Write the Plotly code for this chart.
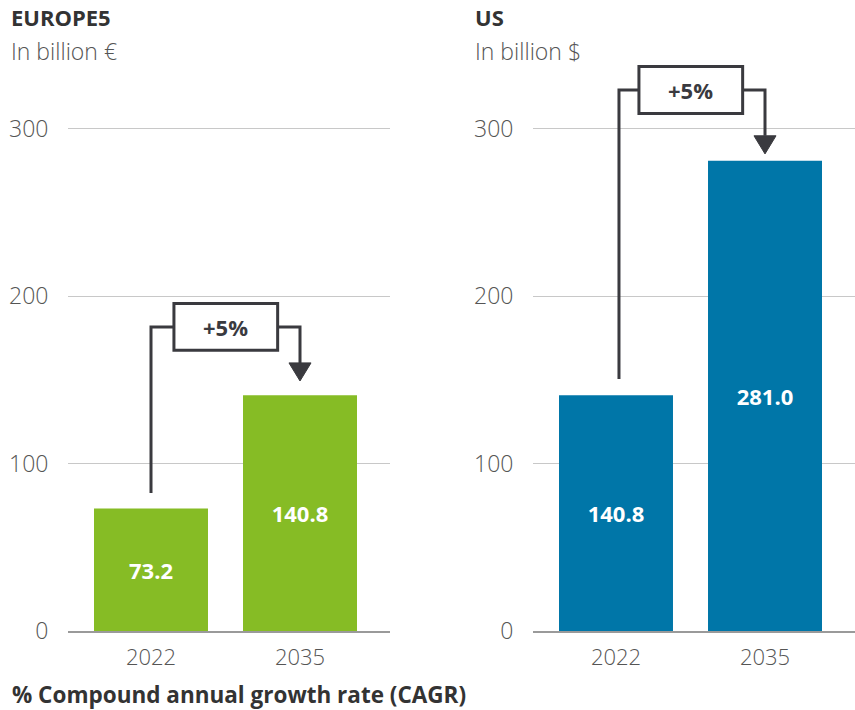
import plotly.graph_objects as go

# ---- data ----
years = ["2022", "2035"]
europe_values = [73.2, 140.8]
us_values = [140.8, 281.0]
europe_cagr = "+5%"
us_cagr = "+5%"
y_ticks = [0, 100, 200, 300]
panel_titles = ["EUROPE5", "US"]
panel_units = ["In billion €", "In billion $"]
footnote = "% Compound annual growth rate (CAGR)"

GREEN = "#86BC25"
BLUE = "#0076A8"
DARK = "#3a3a3f"
GRAY_TXT = "#555555"
FONT = "Open Sans"

W, H = 855, 710
M_T, M_B = 62, 79
plot_h = H - M_T - M_B

xpos = list(range(len(years)))

fig = go.Figure()

def add_bars(values, color, xa, ya):
    fig.add_trace(go.Bar(
        x=xpos, y=values, width=0.765, marker=dict(color=color, line=dict(width=0)),
        text=[f"{v:.1f}" for v in values], textposition="inside",
        insidetextanchor="middle", textangle=0,
        textfont=dict(family=FONT, size=22, color="white", weight="bold"),
        xaxis=xa, yaxis=ya, showlegend=False, hoverinfo="skip",
    ))

add_bars(europe_values, GREEN, "x", "y")
add_bars(us_values, BLUE, "x2", "y2")

shapes = []
annotations = []

def add_cagr(values, label, xr, yr, start_gap, tip_gap, box_gap, left_x):
    box_y = values[-1] + box_gap
    half_h = 14.0
    bx0, bx1 = 0.154, 0.85
    line = dict(color=DARK, width=3)
    shapes.append(dict(type="path", xref=xr, yref=yr,
                       path=f"M {left_x} {values[0] + start_gap} L {left_x} {box_y} L {bx0} {box_y}",
                       line=line))
    base = values[-1] + tip_gap + 10.8
    shapes.append(dict(type="path", xref=xr, yref=yr,
                       path=f"M {bx1} {box_y} L 1 {box_y} L 1 {base}",
                       line=line))
    shapes.append(dict(type="path", xref=xr, yref=yr,
                       path=f"M 0.926 {base} L 1.074 {base} L 1 {values[-1] + tip_gap} Z",
                       fillcolor=DARK, line=dict(color=DARK, width=1)))
    shapes.append(dict(type="rect", xref=xr, yref=yr, x0=bx0, x1=bx1,
                       y0=box_y - half_h, y1=box_y + half_h,
                       fillcolor="white", line=line))
    annotations.append(dict(x=(bx0 + bx1) / 2, y=box_y, xref=xr, yref=yr,
                            text=f"<b>{label}</b>", showarrow=False,
                            font=dict(family=FONT, size=22, color=DARK)))

add_cagr(europe_values, europe_cagr, "x", "y", 9.3, 8.6, 40.9, 0)
add_cagr(us_values, us_cagr, "x2", "y2", 9.8, 4.1, 42.3, 0.02)

def py(pix):
    return (H - M_B - pix) / plot_h

for i, (t, u) in enumerate(zip(panel_titles, panel_units)):
    x0 = [9, 473][i]
    annotations.append(dict(x=x0 / W, y=py(17), xref="paper", yref="paper",
                            xanchor="left", yanchor="middle", showarrow=False,
                            text=f"<b>{t}</b>",
                            font=dict(family=FONT, size=22, color="#333333")))
    annotations.append(dict(x=x0 / W, y=py(51), xref="paper", yref="paper",
                            xanchor="left", yanchor="middle", showarrow=False,
                            text=u,
                            font=dict(family=FONT, size=23, color=GRAY_TXT, weight=300)))

annotations.append(dict(x=11 / W, y=py(694), xref="paper", yref="paper",
                        xanchor="left", yanchor="middle", showarrow=False,
                        borderpad=0,
                        text=f"<b>{footnote}</b>",
                        font=dict(family=FONT, size=22.5, color="#333333")))

xaxis_common = dict(
    range=[-0.557, 1.604], tickvals=xpos, ticktext=years,
    showgrid=False, zeroline=False, showline=True, linecolor="#9a9a9a", linewidth=2,
    ticks="outside", ticklen=6, tickcolor="rgba(0,0,0,0)",
    tickfont=dict(family=FONT, size=22, color=GRAY_TXT, weight=300),
    fixedrange=True,
)
yaxis_common = dict(
    range=[0, 340], tickvals=y_ticks, showgrid=True, gridcolor="#c8c8c8", gridwidth=1,
    zeroline=False, showline=False,
    ticks="outside", ticklen=14, tickcolor="rgba(0,0,0,0)",
    tickfont=dict(family=FONT, size=23, color=GRAY_TXT, weight=300),
    fixedrange=True,
)

fig.update_layout(
    width=W, height=H,
    margin=dict(l=0, r=0, t=M_T, b=M_B),
    paper_bgcolor="white", plot_bgcolor="white",
    xaxis=dict(domain=[68 / W, 390 / W], anchor="y", **xaxis_common),
    yaxis=dict(domain=[0, 1], anchor="x", **yaxis_common),
    xaxis2=dict(domain=[533 / W, 1.0], anchor="y2", **xaxis_common),
    yaxis2=dict(domain=[0, 1], anchor="x2", **yaxis_common),
    shapes=shapes, annotations=annotations,
    bargap=0.2,
)

fig.write_html("out.html", config={"displayModeBar": False},
               post_script="document.body.style.margin='0';document.body.style.padding='0';")
